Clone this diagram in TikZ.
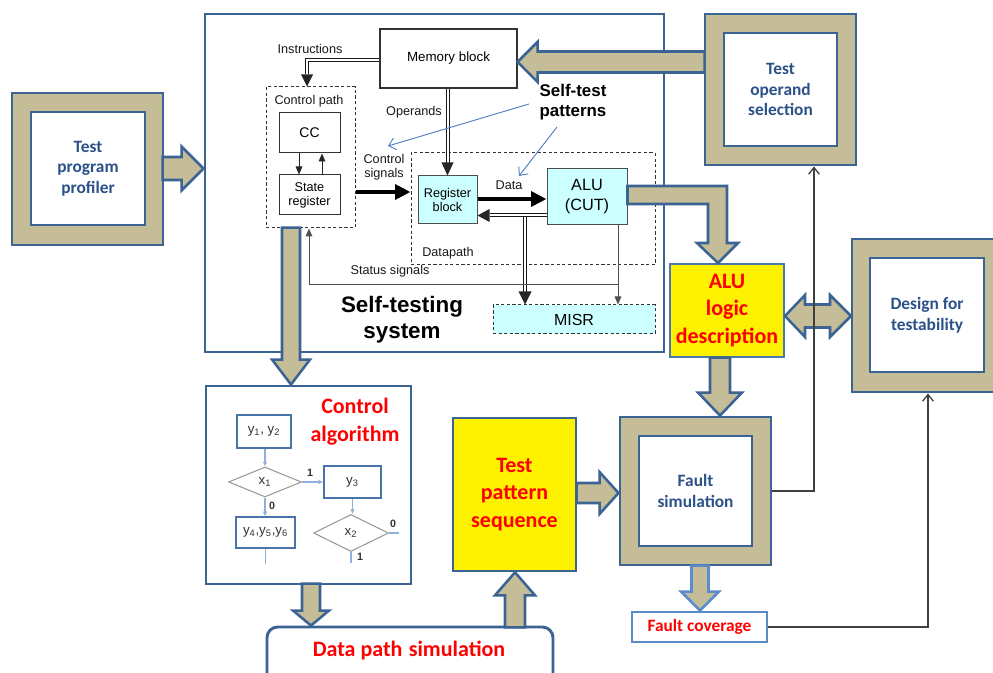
\documentclass[tikz,border=0pt]{standalone}
\usepackage{fontspec}
\setmainfont{Liberation Sans}
\newfontfamily\calfont{Carlito}
\usetikzlibrary{arrows.meta,shapes.geometric}

\definecolor{frameblue}{HTML}{3B6394}
\definecolor{midblue}{HTML}{4A78B0}
\definecolor{lightblue}{HTML}{5A8CCB}
\definecolor{tanfill}{HTML}{C4BD97}
\definecolor{textblue}{HTML}{2B5188}
\definecolor{paleCyan}{HTML}{CCFFFF}
\definecolor{flowline}{HTML}{8EB0DA}
\definecolor{flowbox}{HTML}{4A74A8}
\definecolor{diagray}{HTML}{9A9A9A}
\definecolor{pointerblue}{HTML}{4F81BD}
\definecolor{wiregray}{HTML}{505050}

\newcommand\setfs[2]{\fontsize{#1}{#2}\selectfont}

\tikzset{
  pics/barrow/.style n args={4}{code={%
    \path[blkarr] (0,0) -- (-#2,#3) -- (-#2,#4) -- (-#1,#4) -- (-#1,-#4)
      -- (-#2,-#4) -- (-#2,-#3) -- cycle;}},
}

\begin{document}
\begin{tikzpicture}[x=0.75pt,y=-0.75pt,
  sz/.style 2 args={minimum width=#1*0.75pt, minimum height=#2*0.75pt, inner sep=0pt},
  bluebox/.style={draw=frameblue, line width=2.2pt},
  tanframe/.style={bluebox, fill=tanfill},
  whitebox/.style={bluebox, fill=white, text=textblue, align=center, font=\calfont\bfseries\setfs{13}{15.5}},
  yellowbox/.style={draw=midblue, line width=2pt, fill=yellow, text=red, align=center, font=\calfont\bfseries\setfs{16.5}{20.6}},
  redlbl/.style={text=red, align=center, font=\calfont\bfseries\setfs{16.5}{20.8}},
  solidbox/.style={draw=black!80, line width=0.8pt, fill=white, align=center},
  cyanbox/.style={draw=black!70, line width=0.75pt, fill=paleCyan, align=center},
  dashbox/.style={draw=black!80, line width=0.75pt, dash pattern=on 2.4pt off 1.8pt},
  lbl/.style={font=\setfs{9.5}{10.5}, text=black!90, align=center, inner sep=0pt},
  dbl/.style={draw=black!90, double=white, line width=0.75pt, double distance=1.5pt},
  fatarr/.style={draw=black, line width=3.4pt, -{Triangle[length=11.5pt,width=11pt]}},
  thinarr/.style={draw=black!85, line width=0.7pt, -{Triangle[length=6pt,width=5pt]}},
  wire/.style={draw=wiregray, line width=0.75pt},
  pointer/.style={draw=pointerblue, line width=0.7pt, -{Straight Barb[length=5pt,width=9pt]}},
  feedback/.style={draw=black!75, line width=1pt, -{Straight Barb[length=5pt,width=8pt]}},
  blkarr/.style={draw=frameblue, fill=tanfill, line width=1.9pt, line join=miter},
  fbox/.style={draw=flowbox, line width=1pt, fill=white, font=\setfs{10}{12}, text=black!80},
  fdia/.style={diamond, draw=diagray, line width=0.8pt, fill=white, font=\setfs{10}{12}, text=black!80},
  fline/.style={draw=flowline, line width=1.1pt},
  farr/.style={fline, -{Latex[length=3.5pt,width=3.5pt]}},
  ftag/.style={font=\bfseries\setfs{8}{9}, text=black!80, inner sep=0pt},
]
\useasboundingbox (0,0) rectangle (993,673);
\clip (0,0) rectangle (993,673);

% ---------- self-testing system ----------
\node[bluebox, fill=white, sz={459}{338}] (sys) at (434.5,183) {};

\node[solidbox, sz={137}{59}, font=\setfs{10}{12}] (mem) at (448.5,58.5) {Memory block};
\node[dashbox, sz={89}{141}] (cpath) at (310.5,157.5) {};
\node[lbl] (cplbl) at (309,101) {Control path};
\node[solidbox, line width=0.75pt, sz={61}{40}, font=\setfs{10.5}{12}] (cc) at (309.5,133) {CC};
\node[solidbox, line width=0.75pt, sz={61}{40}, font=\setfs{9.5}{10.5}] (sreg) at (309.5,195) {State\\register};
\node[dashbox, sz={244}{112}] (dpath) at (533,209) {};
\node[lbl] (dplbl) at (448,253) {Datapath};
\node[cyanbox, sz={59}{48}, font=\setfs{9.5}{10.5}] (reg) at (447.5,200) {Register\\block};
\node[cyanbox, sz={80}{56}, font=\setfs{12.2}{15}] (alu) at (587,197) {ALU\\(CUT)};
\node[dashbox, fill=paleCyan, sz={162}{29}, font=\setfs{12}{14}] (misr) at (574,319.5) {MISR};

\node[lbl] (instlbl) at (310,49) {Instructions};
\node[lbl] (oplbl) at (414,112) {Operands};
\node[lbl] (cslbl) at (384,167) {Control\\signals};
\node[lbl] (datalbl) at (509,185) {Data};
\node[lbl] (stlbl) at (390,271) {Status signals};
\node[font=\bfseries\setfs{16.8}{19.5}, align=center, inner sep=0pt] (systitle) at (402,320) {Self-testing\\system};
\node[font=\bfseries\setfs{12.7}{15}, align=center, inner sep=0pt] (stp) at (573,102) {Self-test\\patterns};

% instruction and operand buses
\coordinate (iy) at (0,60.5);
\coordinate (ix) at (307,0);
\draw[dbl, shorten >=9pt] (mem.west |- iy) -| (cpath.north -| ix);
\fill[black!85] (cpath.north -| ix) -- ++(-6,-12) -- ++(12,0) -- cycle;
\draw[dbl, shorten >=9.5pt] (mem.south -| reg.north) -- (reg.north);
\fill[black!85] (reg.north) -- ++(-6,-13) -- ++(12,0) -- cycle;

% control signals and data
\coordinate (csy) at (0,192);
\draw[fatarr] (cpath.east |- csy) -- (dpath.west |- csy);
\coordinate (dy) at (0,199);
\draw[fatarr] (reg.east |- dy) -- (alu.west |- dy);
\coordinate (by) at (0,215.5);
\draw[dbl, shorten >=9pt] (alu.west |- by) -- (reg.east |- by);
\fill[black!85] (reg.east |- by) -- ++(12,-6.5) -- ++(0,13) -- cycle;
\coordinate (jn) at (525,217);
\draw[dbl, shorten >=9.5pt] (jn) -- (misr.north -| jn);
\fill[black!85] (misr.north -| jn) -- ++(-6.5,-13) -- ++(13,0) -- cycle;

% control unit internal arrows
\coordinate (cdx) at (299,0);
\coordinate (cux) at (322,0);
\draw[thinarr] (cc.south -| cdx) -- (sreg.north -| cdx);
\draw[thinarr] (sreg.north -| cux) -- (cc.south -| cux);

% status signals
\coordinate (tap) at (618,0);
\coordinate (sty) at (0,285);
\coordinate (stx) at (309,0);
\draw[wire, -{Triangle[length=6pt,width=5pt]}] (alu.south -| tap) -- (misr.north -| tap);
\draw[wire, -{Triangle[length=6pt,width=5pt]}] (tap |- sty) -- (stx |- sty) -- (cpath.south -| stx);

% pointers from the self-test patterns label
\coordinate (ptAs) at (529,104);
\coordinate (ptA) at (388,146);
\coordinate (ptBs) at (557,127);
\coordinate (ptB) at (519,176);
\draw[pointer] (ptAs) -- (ptA);
\draw[pointer] (ptBs) -- (ptB);

% ---------- surrounding blocks ----------
\node[tanframe, sz={151}{152}] (profo) at (87.5,169) {};
\node[whitebox, sz={114}{113}] (prof) at (88,168.5) {Test\\program\\profiler};
\node[tanframe, sz={151}{151}] (toso) at (780.5,89.5) {};
\node[whitebox, sz={113}{113}] (tos) at (780.5,89.5) {Test\\operand\\selection};
\node[tanframe, sz={150}{153}] (dfto) at (927,315.5) {};
\node[whitebox, sz={114}{114}] (dft) at (927,315) {Design for\\testability};
\node[tanframe, sz={151}{148}] (fsimo) at (695.5,491) {};
\node[whitebox, sz={113}{110}] (fsim) at (695.5,491) {Fault\\simulation};
\node[yellowbox, sz={114}{93}] (alulog) at (727,310.5) {ALU\\logic\\description};
\node[yellowbox, draw=frameblue, sz={123}{153}] (tps) at (514.5,494.5) {Test\\pattern\\sequence};
\node[draw=lightblue, line width=2.2pt, fill=white, sz={135}{30}, text=red,
      font=\calfont\bfseries\setfs{13}{15}] (fcov) at (699.5,627) {Fault coverage};
\node[bluebox, fill=white, rounded corners=8pt, sz={286}{66}] (dps) at (410,660) {};
\node[redlbl] (dpslbl) at (409,650) {Data path\hspace{1pt} simulation};

% control algorithm with its flowchart
\node[bluebox, fill=white, sz={205}{198}] (calg) at (308.5,485) {};
\node[redlbl] (calglbl) at (355,422) {Control\\algorithm};
\node[fbox, sz={54}{33}] (fa) at (264,431.5) {y\textsubscript{1}, y\textsubscript{2}};
\node[fdia, sz={73}{30}, aspect=2.4] (d1) at (265,482) {x\textsubscript{1}};
\node[fbox, sz={57}{32}] (fb) at (352.5,482) {y\textsubscript{3}};
\node[fbox, sz={59}{31}] (fc) at (265.5,532.5) {y\textsubscript{4},y\textsubscript{5},y\textsubscript{6}};
\node[fdia, sz={75}{37}, aspect=2] (d2) at (351,533) {x\textsubscript{2}};
\draw[farr] (fa.south -| d1.north) -- (d1.north);
\draw[farr] (d1.east) -- (fb.west);
\draw[farr] (d1.south) -- (fc.north -| d1.south);
\draw[fline] (fc.south) -- ++(0,15);
\draw[farr] (fb.south) -- (d2.north -| fb.south);
\draw[fline] (d2.east) -- ++(10,0);
\draw[fline, line width=2pt] (d2.south) -- ++(0,11);
\node[ftag] (t1) at (310,473) {1};
\node[ftag] (t2) at (272,506) {0};
\node[ftag] (t3) at (393,524) {0};
\node[ftag] (t4) at (360,557) {1};

% ---------- block arrows ----------
\pic at (sys.west |- prof) {barrow={41}{22}{22}{11.5}};
\coordinate (ay) at (0,62);
\pic[rotate=180] at (mem.east |- ay) {barrow={187}{20}{20}{10.5}};
\coordinate (cax) at (291,0);
\pic[rotate=-90] at (calg.north -| cax) {barrow={157}{25}{19}{9}};
\coordinate (cbx) at (311,0);
\pic[rotate=-90] at (dps.north -| cbx) {barrow={42}{15}{18}{9}};
\coordinate (tpx) at (515,0);
\pic[rotate=90] at (tps.south -| tpx) {barrow={55}{23}{20}{10}};
\coordinate (tpy) at (0,493);
\pic at (fsimo.west |- tpy) {barrow={42}{19}{21}{10}};
\coordinate (afx) at (720,0);
\pic[rotate=-90] at (fsimo.north -| afx) {barrow={58}{23}{22}{10}};
\coordinate (fcx) at (700,0);
\pic[rotate=-90, blkarr/.append style={draw=lightblue}] at (fcov.north -| fcx) {barrow={45}{19}{19}{8.5}};

% ALU output bent arrow
\coordinate (bt) at (0,186);
\coordinate (bb) at (0,204);
\path[blkarr] (alu.east |- bt) -- (727,186) -- (727,243) -- (738,243) -- (718,263)
  -- (697,243) -- (708,243) -- (708,204) -- (alu.east |- bb) -- cycle;

% two-way arrow to design for testability
\path[blkarr] (785,316) -- (805,295) -- (805,304.5) -- (830,304.5) -- (830,295)
  -- (851,316) -- (830,337) -- (830,327.5) -- (805,327.5) -- (805,337) -- cycle;

% feedback lines
\coordinate (tx) at (814,0);
\draw[feedback] (fsimo.east) -| (toso.south -| tx);
\coordinate (dx) at (928,0);
\draw[feedback] (fcov.east) -| (dfto.south -| dx);
\end{tikzpicture}
\end{document}
